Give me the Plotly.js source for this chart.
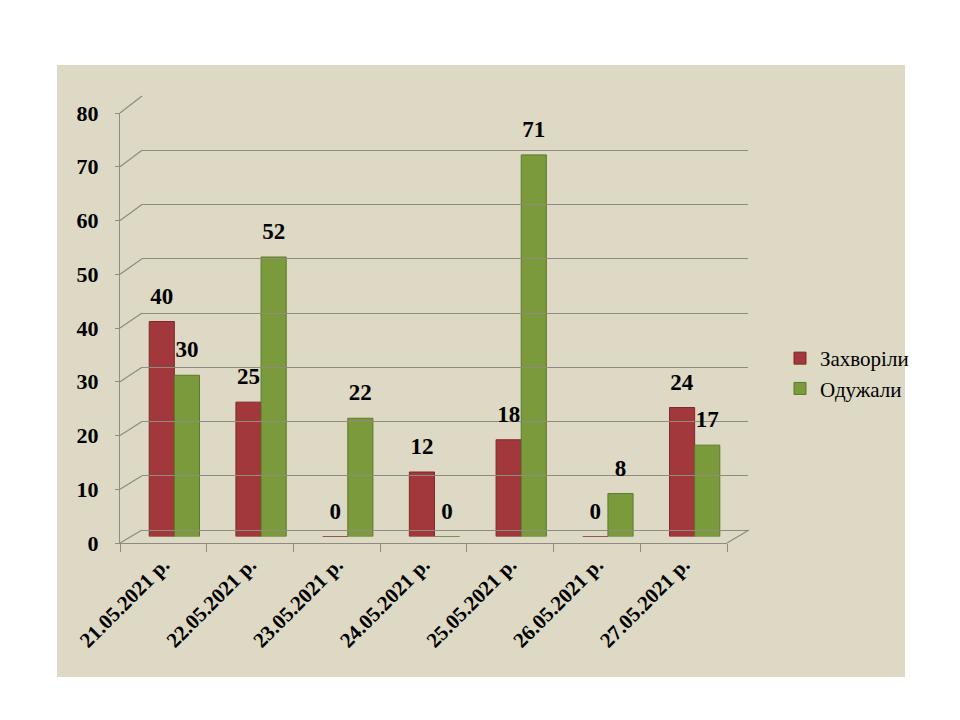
<!DOCTYPE html>
<html>
<head>
<meta charset="utf-8">
<script src="https://cdn.plot.ly/plotly-3.0.1.min.js"></script>
<style>html,body{margin:0;padding:0;background:#fff;}#chart{width:960px;height:720px;}</style>
</head>
<body>
<div id="chart"></div>
<script>
const categories = ["21.05.2021 р.", "22.05.2021 р.", "23.05.2021 р.", "24.05.2021 р.", "25.05.2021 р.", "26.05.2021 р.", "27.05.2021 р."];
const sick = [40, 25, 0, 12, 18, 0, 24];
const recovered = [30, 52, 22, 0, 71, 8, 17];
const seriesNames = ["Захворіли", "Одужали"];
const yTicks = [0, 10, 20, 30, 40, 50, 60, 70, 80];

const RED = "#a2383b", GREEN = "#7a9a3b";
const AX = "#8e8b80";
const FONT = "Liberation Serif";

const L = 120, R = 212, T = 96, B = 177;
const W = 960 - L - R, H = 720 - T - B;
const dx = 22, dy = 13, front = 607, frontH = 430;
const fx = v => v / W, fy = v => v / H;

const labelStyle = {family: FONT, size: 23, color: "#000", weight: "bold"};

const traces = [
  {type: "bar", name: seriesNames[0], x: categories, y: sick, xaxis: "x2", yaxis: "y2",
   marker: {color: RED, line: {color: "#7d2a2c", width: 1}}},
  {type: "bar", name: seriesNames[1], x: categories, y: recovered, xaxis: "x2", yaxis: "y2",
   marker: {color: GREEN, line: {color: "#5e7a2c", width: 1}}},
  {type: "bar", x: categories, y: sick, xaxis: "x4", yaxis: "y4", showlegend: false, hoverinfo: "skip",
   marker: {color: "rgba(0,0,0,0)"}, text: sick.map(String), textposition: "outside",
   textfont: labelStyle, cliponaxis: false},
  {type: "bar", x: categories, y: recovered, xaxis: "x4", yaxis: "y4", showlegend: false, hoverinfo: "skip",
   marker: {color: "rgba(0,0,0,0)"}, text: recovered.map(String), textposition: "outside",
   textfont: labelStyle, cliponaxis: false},
  {type: "scatter", x: [0], y: [null], xaxis: "x3", yaxis: "y3", showlegend: false},
  {type: "scatter", x: categories, y: categories.map(() => null), xaxis: "x", yaxis: "y", showlegend: false}
];

const shapes = [
  {type: "rect", xref: "paper", yref: "paper", layer: "below",
   x0: fx(57 - L), x1: fx(905 - L), y0: fy(543 - 677), y1: fy(543 - 65),
   fillcolor: "#ddd9c4", line: {width: 0}}
];
yTicks.forEach(v => {
  const yf = fy(v / 80 * frontH);
  const yb = fy(dy + v / 80 * (H - dy));
  shapes.push({type: "line", xref: "paper", yref: "paper", x0: 0, x1: fx(dx), y0: yf, y1: yb,
    line: {color: AX, width: 1.2}});
});
shapes.push({type: "line", xref: "paper", yref: "paper", x0: fx(front), x1: fx(front + dx),
  y0: 0, y1: fy(dy), line: {color: AX, width: 1.2}});

const hidden = {visible: false, fixedrange: true};
const layout = {
  width: 960, height: 720,
  font: {family: FONT, color: "#000"},
  margin: {l: L, r: R, t: T, b: B},
  paper_bgcolor: "#ffffff", plot_bgcolor: "rgba(0,0,0,0)",
  barmode: "group", bargap: 0.42, bargroupgap: 0,
  showlegend: true,
  legend: {x: fx(780 - L), y: fy(543 - 338), xanchor: "left", yanchor: "top",
    font: {family: FONT, size: 21, color: "#000"}, bgcolor: "rgba(0,0,0,0)",
    itemwidth: 30, tracegroupgap: 6},
  xaxis: {domain: [0, fx(front)], type: "category", range: [-0.5, 6.5],
    showline: true, linecolor: AX, linewidth: 1.2, ticks: "outside", tickson: "boundaries",
    ticklen: 8, tickcolor: AX, tickangle: -45, showgrid: false, zeroline: false,
    tickfont: {family: FONT, size: 21, color: "#000", weight: "bold"}, anchor: "y"},
  yaxis: {domain: [0, fy(frontH)], range: [0, 80], tickvals: yTicks,
    showline: true, linecolor: AX, linewidth: 1.2, ticks: "outside", ticklen: 4, tickcolor: AX,
    showgrid: false, zeroline: false, ticklabelstandoff: 12,
    tickfont: {family: FONT, size: 22, color: "#000", weight: "bold"}, anchor: "x"},
  xaxis2: Object.assign({domain: [fx(11), fx(front + 11)], type: "category", range: [-0.5, 6.5], anchor: "y2"}, hidden),
  yaxis2: Object.assign({domain: [fy(6.5), fy(frontH + 6.5)], range: [0, 80], anchor: "x2"}, hidden),
  xaxis4: Object.assign({domain: [fx(11), fx(front + 11)], type: "category", range: [-0.5, 6.5], anchor: "y4"}, hidden),
  yaxis4: Object.assign({domain: [fy(6.5 + 10), fy(frontH + 6.5 + 10)], range: [0, 80], anchor: "x4"}, hidden),
  xaxis3: {domain: [fx(dx), 1], range: [0, 1], showgrid: false, zeroline: false,
    showticklabels: false, ticks: "", showline: false, anchor: "y3"},
  yaxis3: {domain: [fy(dy), 1], range: [0, 80], tickvals: yTicks, showgrid: true,
    gridcolor: AX, gridwidth: 1, zeroline: true, zerolinecolor: AX, zerolinewidth: 1,
    showticklabels: false, ticks: "", showline: false, anchor: "x3"},
  shapes: shapes
};

Plotly.newPlot("chart", traces, layout, {displayModeBar: false, staticPlot: true});
</script>
</body>
</html>
